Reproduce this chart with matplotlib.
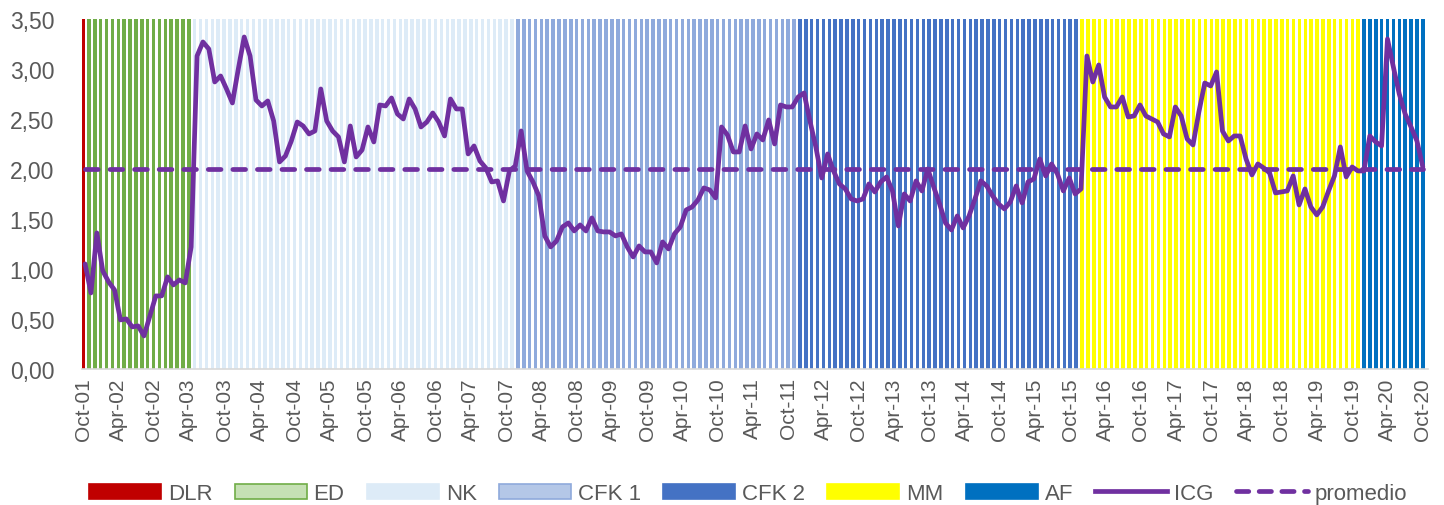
import numpy as np
import pandas as pd
import matplotlib
matplotlib.use('Agg')
from matplotlib import pyplot as plt
from matplotlib.patches import Patch
from matplotlib.lines import Line2D
from matplotlib.ticker import FuncFormatter

plt.rcParams['font.family'] = ['Liberation Sans', 'DejaVu Sans']

# gobiernos y cantidad de meses de cada uno (Oct-01 .. Oct-20)
gobiernos = ['DLR', 'ED', 'NK', 'CFK 1', 'CFK 2', 'MM', 'AF']
meses_gobierno = [1, 18, 55, 48, 48, 48, 11]
color_barra = ['#C00000', '#70AD47', '#DDEBF7', '#8FAADC', '#4472C4', '#FFFF00', '#0070C0']
relleno_ley = ['#C00000', '#C5E0B4', '#DDEBF7', '#B4C7E7', '#4472C4', '#FFFF00', '#0070C0']
borde_ley = ['#C00000', '#70AD47', '#DDEBF7', '#8FAADC', '#4472C4', '#FFFF00', '#0070C0']

# indice de confianza en el gobierno, mensual
icg = [1.05, 0.76, 1.36, 0.98, 0.87, 0.79, 0.49, 0.50, 0.42, 0.43,
       0.33, 0.53, 0.73, 0.73, 0.92, 0.84, 0.89, 0.86, 1.22, 3.13,
       3.27, 3.20, 2.87, 2.93, 2.80, 2.66, 3.00, 3.32, 3.13, 2.69,
       2.63, 2.68, 2.48, 2.07, 2.13, 2.28, 2.47, 2.43, 2.35, 2.38,
       2.80, 2.48, 2.38, 2.32, 2.07, 2.43, 2.12, 2.19, 2.42, 2.27,
       2.64, 2.63, 2.71, 2.55, 2.50, 2.70, 2.60, 2.42, 2.47, 2.56,
       2.47, 2.33, 2.70, 2.60, 2.60, 2.15, 2.23, 2.08, 2.01, 1.87,
       1.88, 1.68, 1.98, 2.03, 2.38, 1.98, 1.87, 1.73, 1.33, 1.22,
       1.28, 1.42, 1.46, 1.38, 1.44, 1.38, 1.51, 1.38, 1.37, 1.37,
       1.33, 1.35, 1.22, 1.12, 1.23, 1.17, 1.17, 1.06, 1.27, 1.20,
       1.35, 1.42, 1.59, 1.62, 1.69, 1.81, 1.79, 1.71, 2.42, 2.34,
       2.17, 2.17, 2.43, 2.20, 2.35, 2.29, 2.49, 2.25, 2.64, 2.62,
       2.62, 2.72, 2.76, 2.48, 2.22, 1.91, 2.15, 1.98, 1.85, 1.80,
       1.70, 1.68, 1.70, 1.85, 1.77, 1.87, 1.92, 1.78, 1.43, 1.75,
       1.68, 1.88, 1.78, 2.00, 1.82, 1.65, 1.46, 1.39, 1.53, 1.41,
       1.53, 1.70, 1.88, 1.83, 1.73, 1.65, 1.60, 1.67, 1.83, 1.66,
       1.87, 1.90, 2.10, 1.93, 2.05, 1.95, 1.78, 1.91, 1.75, 1.80,
       3.13, 2.87, 3.04, 2.72, 2.62, 2.62, 2.72, 2.52, 2.53, 2.64,
       2.53, 2.50, 2.47, 2.35, 2.32, 2.62, 2.53, 2.30, 2.24, 2.57,
       2.86, 2.83, 2.97, 2.38, 2.28, 2.33, 2.33, 2.10, 1.94, 2.05,
       2.01, 1.96, 1.76, 1.77, 1.78, 1.93, 1.64, 1.80, 1.62, 1.54,
       1.62, 1.78, 1.93, 2.22, 1.92, 2.02, 1.98, 1.98, 2.33, 2.27,
       2.23, 3.30, 3.02, 2.75, 2.55, 2.42, 2.28, 2.02]
promedio = 2.00

meses = pd.date_range('2001-10-01', '2020-10-01', freq='MS')
etiquetas = [m.strftime('%b-%y') for m in meses]

gris = '#595959'
violeta = '#7030A0'

fig = plt.figure(figsize=(14.44, 5.06), dpi=100)
ax = fig.add_axes([0.0568, 0.269, 0.9322, 0.6915])

x = np.arange(len(meses))
colores = np.repeat(color_barra, meses_gobierno)
ax.bar(x, 3.5, width=0.6, color=colores, linewidth=0)

x_icg = np.linspace(0.35, len(meses) - 1, len(icg))
ax.plot(x_icg, icg, color=violeta, lw=3.4, solid_joinstyle='round', solid_capstyle='round', zorder=4)
ax.plot(x_icg, [promedio] * len(icg), color=violeta, lw=3.4, dashes=(2.7, 2.5),
        dash_capstyle='round', zorder=3)

ax.set_xlim(-0.17, len(meses) - 1 + 0.9)
ax.set_ylim(0, 3.5)
ax.set_yticks(np.arange(0, 3.51, 0.5))
ax.yaxis.set_major_formatter(FuncFormatter(lambda v, p: f'{v:.2f}'.replace('.', ',')))
ax.set_xticks(x[::6])
ax.set_xticklabels(etiquetas[::6], rotation=90)
ax.tick_params(length=0, labelsize=15, colors=gris)
ax.tick_params(axis='x', pad=6)
ax.tick_params(axis='y', labelsize=16.5, pad=20)
for s in ['top', 'right', 'left']:
    ax.spines[s].set_visible(False)
ax.spines['bottom'].set_color('#D9D9D9')
ax.spines['bottom'].set_linewidth(1.2)

handles = [Patch(facecolor=f, edgecolor=b, linewidth=1.2) for f, b in zip(relleno_ley, borde_ley)]
handles.append(Line2D([], [], color=violeta, lw=3.4))
handles.append(Line2D([], [], color=violeta, lw=3.4, dashes=(2.6, 2.2), dash_capstyle='round'))
fig.legend(handles, gobiernos + ['ICG', 'promedio'], loc='lower center',
           bbox_to_anchor=(0.518, -0.038), ncol=9, frameon=False, fontsize=16,
           labelcolor=gris, handlelength=3.25, handleheight=0.7,
           handletextpad=0.3, columnspacing=1.0)

fig.savefig('out.png', dpi=100)
